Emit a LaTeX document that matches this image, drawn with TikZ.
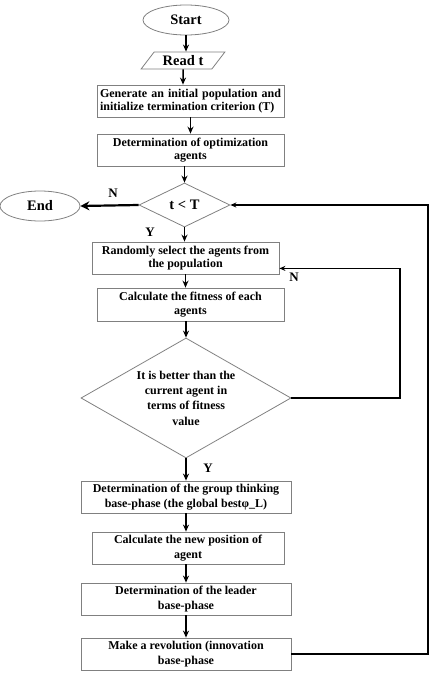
\documentclass[tikz,border=0pt]{standalone}
\usepackage{fontspec}
\setmainfont{Liberation Serif}
\usetikzlibrary{shapes.geometric,arrows.meta}

\begin{document}
\begin{tikzpicture}[x=1pt,y=-1pt,
  proc/.style={draw=gray,line width=0.8pt,minimum height=32pt,inner sep=0pt,align=center,font=\bfseries\fontsize{12}{13.3}\selectfont},
  procb/.style={proc,font=\bfseries\fontsize{12}{15.7}\selectfont},
  term/.style={draw=gray,line width=0.8pt,ellipse,minimum height=30pt,inner sep=0pt,font=\bfseries\fontsize{14.5}{16}\selectfont},
  dec/.style={draw=gray,line width=0.8pt,diamond,inner sep=0pt},
  flow/.style={-{Stealth[length=7pt,width=6pt]},line width=1.5pt},
  back/.style={-{Stealth[length=6pt,width=5pt]},line width=1.2pt},
  yn/.style={font=\bfseries\fontsize{13}{15}\selectfont}]
  \useasboundingbox (0,0) rectangle (431,677);
  \node[term,minimum width=86pt] (start) at (186,20) {Start};
  \node[draw=gray,line width=0.8pt,trapezium,trapezium left angle=48,trapezium right angle=132,trapezium stretches=true,minimum width=84pt,minimum height=17pt,inner sep=0pt,font=\bfseries\fontsize{14.5}{16}\selectfont] (read) at (183,60.5) {Read t};
  \node[proc,minimum width=187pt,text width=181pt,align=justify] (gen) at (190.5,101) {\parfillskip=0pt Generate an initial population and initialize termination criterion (T)};
  \node[proc,minimum width=187pt] (det) at (190.5,150) {Determination of optimization\\agents};
  \node[dec,minimum width=91pt,minimum height=44pt,aspect=2,font=\bfseries\fontsize{14.5}{16}\selectfont] (tcheck) at (184.5,205) {t < T};
  \node[term,minimum width=80pt] (end) at (40,206) {End};
  \node[proc,minimum width=187pt] (rand) at (185.5,258) {Randomly select the agents from\\the population};
  \node[proc,minimum width=187pt,minimum height=33pt] (fit) at (190.5,304.5) {Calculate the fitness of each\\agents};
  \node[dec,minimum width=210pt,minimum height=120pt,aspect=1.75,align=center,font=\bfseries\fontsize{12}{15.3}\selectfont] (better) at (186,398) {It is better than the\\current agent in\\terms of fitness\\value};
  \node[procb,minimum width=210pt] (group) at (186,497) {Determination of the group thinking\\base-phase (the global bestφ\_L)};
  \node[procb,minimum width=192pt] (pos) at (188,548) {Calculate the new position of\\agent};
  \node[procb,minimum width=210pt] (lead) at (186,599) {Determination of the leader\\base-phase};
  \node[procb,minimum width=210pt] (rev) at (186,654) {Make a revolution (innovation\\base-phase};
  \node[yn] (no1) at (113,193) {N};
  \node[yn] (yes1) at (150,232) {Y};
  \node[yn] (no2) at (294,277) {N};
  \node[yn] (yes2) at (208,468) {Y};
  \coordinate (fb) at (428,0);
  \coordinate (lp) at (400,0);
  \coordinate (randin) at ([yshift=6pt]rand.south east);
  \draw[flow] (start) to (start |- read.north);
  \draw[flow] (read) to (read |- gen.north);
  \draw[flow] (gen) to (gen |- det.north);
  \draw[flow] (det.south -| tcheck.north) to (tcheck.north);
  \draw[-{Stealth[length=9pt,width=9pt]},line width=2.2pt] (tcheck.west) to (end.east);
  \draw[flow] (tcheck) to (tcheck |- rand.north);
  \draw[flow] (rand) to (rand |- fit.north);
  \draw[flow] (fit.south -| better.north) to (better.north);
  \draw[flow] (better) to (better |- group.north);
  \draw[flow] (group) to (group |- pos.north);
  \draw[flow] (lead.north |- pos.south) to (lead.north);
  \draw[flow] (lead) to (lead |- rev.north);
  \draw[back] (better.east) -- (better.east -| lp) -- (lp |- randin) -- (randin);
  \draw[back] (rev.east) -- (rev.east -| fb) -- (fb |- tcheck.east) -- (tcheck.east);
\end{tikzpicture}
\end{document}
